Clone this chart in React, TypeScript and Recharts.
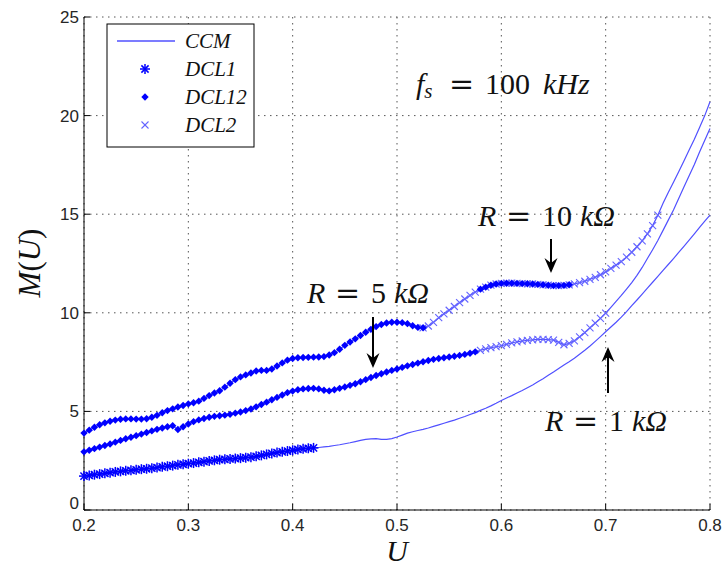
import React from "react";
import { LineChart, Line, XAxis, YAxis, CartesianGrid } from "recharts";

// U grid (x values)
const U = [
  0.2, 0.205, 0.21, 0.215, 0.22, 0.225, 0.23, 0.235, 0.24, 0.245,
  0.25, 0.255, 0.26, 0.265, 0.27, 0.275, 0.28, 0.285, 0.29, 0.295,
  0.3, 0.305, 0.31, 0.315, 0.32, 0.325, 0.33, 0.335, 0.34, 0.345,
  0.35, 0.355, 0.36, 0.365, 0.37, 0.375, 0.38, 0.385, 0.39, 0.395,
  0.4, 0.405, 0.41, 0.415, 0.42, 0.425, 0.43, 0.435, 0.44, 0.445,
  0.45, 0.455, 0.46, 0.465, 0.47, 0.475, 0.48, 0.485, 0.49, 0.495,
  0.5, 0.505, 0.51, 0.515, 0.52, 0.525, 0.53, 0.535, 0.54, 0.545,
  0.55, 0.555, 0.56, 0.565, 0.57, 0.575, 0.58, 0.585, 0.59, 0.595,
  0.6, 0.605, 0.61, 0.615, 0.62, 0.625, 0.63, 0.635, 0.64, 0.645,
  0.65, 0.655, 0.66, 0.665, 0.67, 0.675, 0.68, 0.685, 0.69, 0.695,
  0.7, 0.705, 0.71, 0.715, 0.72, 0.725, 0.73, 0.735, 0.74, 0.745,
  0.75, 0.755, 0.76, 0.765, 0.77, 0.775, 0.78, 0.785, 0.79, 0.795,
  0.8,
];

// M(U) for R = 1 kOhm
const M_R1 = [
  1.72, 1.75, 1.79, 1.82, 1.86, 1.89, 1.93, 1.96, 1.99, 2.01,
  2.04, 2.07, 2.09, 2.12, 2.15, 2.19, 2.22, 2.25, 2.29, 2.32,
  2.35, 2.38, 2.42, 2.45, 2.49, 2.52, 2.55, 2.57, 2.59, 2.61,
  2.63, 2.65, 2.68, 2.72, 2.77, 2.82, 2.87, 2.91, 2.95, 2.99,
  3.03, 3.07, 3.1, 3.13, 3.15, 3.17, 3.2, 3.23, 3.27, 3.31,
  3.36, 3.41, 3.47, 3.53, 3.58, 3.61, 3.62, 3.58, 3.58, 3.62,
  3.7, 3.8, 3.9, 3.97, 4.03, 4.09, 4.16, 4.24, 4.32, 4.4,
  4.48, 4.56, 4.65, 4.74, 4.84, 4.94, 5.05, 5.16, 5.28, 5.41,
  5.55, 5.68, 5.8, 5.93, 6.06, 6.2, 6.34, 6.5, 6.66, 6.83,
  7.0, 7.18, 7.35, 7.52, 7.7, 7.9, 8.1, 8.32, 8.55, 8.79,
  9.04, 9.28, 9.52, 9.78, 10.06, 10.36, 10.65, 10.95, 11.25, 11.55,
  11.85, 12.15, 12.45, 12.75, 13.06, 13.37, 13.68, 14.0, 14.33, 14.65,
  14.95,
];

// M(U) for R = 5 kOhm
const M_R5 = [
  2.95, 3.03, 3.11, 3.19, 3.27, 3.35, 3.44, 3.53, 3.61, 3.69,
  3.77, 3.85, 3.93, 4.01, 4.09, 4.16, 4.22, 4.27, 4.08, 4.22,
  4.36, 4.48, 4.57, 4.64, 4.7, 4.75, 4.78, 4.81, 4.85, 4.91,
  4.97, 5.04, 5.12, 5.23, 5.35, 5.47, 5.59, 5.71, 5.83, 5.95,
  6.03, 6.1, 6.14, 6.16, 6.17, 6.14, 6.07, 6.04, 6.1, 6.17,
  6.24, 6.32, 6.4, 6.5, 6.61, 6.72, 6.82, 6.91, 7.0, 7.08,
  7.15, 7.23, 7.31, 7.38, 7.45, 7.52, 7.58, 7.64, 7.68, 7.72,
  7.76, 7.8, 7.84, 7.89, 7.95, 8.02, 8.1, 8.17, 8.23, 8.28,
  8.33, 8.4, 8.47, 8.53, 8.57, 8.6, 8.63, 8.65, 8.65, 8.64,
  8.61, 8.5, 8.38, 8.45, 8.58, 8.78, 9.0, 9.24, 9.48, 9.72,
  9.98, 10.28, 10.58, 10.88, 11.2, 11.53, 11.9, 12.3, 12.75, 13.2,
  13.67, 14.18, 14.7, 15.21, 15.8, 16.38, 16.95, 17.52, 18.15, 18.75,
  19.35,
];

// M(U) for R = 10 kOhm
const M_R10 = [
  3.9, 4.05, 4.2, 4.32, 4.42, 4.5, 4.56, 4.6, 4.62, 4.62,
  4.61, 4.61, 4.63, 4.7, 4.8, 4.93, 5.04, 5.13, 5.22, 5.3,
  5.38, 5.44, 5.52, 5.66, 5.8, 5.93, 6.05, 6.23, 6.43, 6.61,
  6.75, 6.85, 6.95, 7.05, 7.08, 7.08, 7.15, 7.3, 7.46, 7.6,
  7.68, 7.72, 7.73, 7.74, 7.75, 7.76, 7.78, 7.86, 7.98, 8.15,
  8.35, 8.52, 8.68, 8.85, 9.01, 9.16, 9.3, 9.41, 9.48, 9.52,
  9.52, 9.5, 9.45, 9.34, 9.26, 9.24, 9.33, 9.52, 9.75, 9.95,
  10.13, 10.32, 10.52, 10.7, 10.88, 11.05, 11.2, 11.3, 11.4, 11.46,
  11.49, 11.5, 11.5, 11.49, 11.48, 11.47, 11.46, 11.44, 11.42, 11.4,
  11.38, 11.38, 11.39, 11.42, 11.47, 11.53, 11.6, 11.7, 11.8, 11.93,
  12.07, 12.25, 12.42, 12.6, 12.82, 13.07, 13.35, 13.65, 14.0, 14.42,
  14.95, 15.55, 16.1, 16.62, 17.15, 17.7, 18.25, 18.8, 19.4, 20.0,
  20.7,
];

const X_TICKS = [0.2, 0.3, 0.4, 0.5, 0.6, 0.7, 0.8];
const Y_TICKS = [0, 5, 10, 15, 20, 25];

// U ranges where each DCL marker set is shown
const DCL1_R1 = [[0.2, 0.42]];
const DCL12_R5 = [[0.2, 0.575]];
const DCL12_R10 = [[0.2, 0.525], [0.58, 0.665]];
const DCL2_R5 = [[0.58, 0.7]];
const DCL2_R10 = [[0.525, 0.75]];

const inside = (u: number, ranges: number[][]) =>
  ranges.some(([a, b]) => u >= a - 1e-9 && u <= b + 1e-9);

const data = U.map((u, i) => ({
  u,
  r1: M_R1[i],
  r5: M_R5[i],
  r10: M_R10[i],
  dcl1: inside(u, DCL1_R1) ? M_R1[i] : null,
  dcl12a: inside(u, DCL12_R5) ? M_R5[i] : null,
  dcl12b: inside(u, DCL12_R10) ? M_R10[i] : null,
  dcl2a: inside(u, DCL2_R5) ? M_R5[i] : null,
  dcl2b: inside(u, DCL2_R10) ? M_R10[i] : null,
}));

const BLUE = "#0000ff";
const LIGHT = "#6464ff";
const LINE = "#5050ff";
const SERIF = "'Liberation Serif', serif";
const SANS = "'Liberation Sans', Arial, sans-serif";

const Star = ({ cx, cy, s = 5 }: any) => {
  const d = s * 0.72;
  return (
    <g stroke={BLUE} strokeWidth={1.5}>
      <line x1={cx - s} y1={cy} x2={cx + s} y2={cy} />
      <line x1={cx} y1={cy - s} x2={cx} y2={cy + s} />
      <line x1={cx - d} y1={cy - d} x2={cx + d} y2={cy + d} />
      <line x1={cx - d} y1={cy + d} x2={cx + d} y2={cy - d} />
    </g>
  );
};

const Diamond = ({ cx, cy, s = 3.7 }: any) => (
  <path d={`M${cx},${cy - s}L${cx + s},${cy}L${cx},${cy + s}L${cx - s},${cy}Z`} fill={BLUE} />
);

const Cross = ({ cx, cy, s = 3.5 }: any) => (
  <g stroke={LIGHT} strokeWidth={1.1}>
    <line x1={cx - s} y1={cy - s} x2={cx + s} y2={cy + s} />
    <line x1={cx - s} y1={cy + s} x2={cx + s} y2={cy - s} />
  </g>
);

const dotOf = (Shape: any) => (p: any) =>
  p.value == null || p.cy == null || isNaN(p.cy) ? (
    <g key={p.index} />
  ) : (
    <Shape key={p.index} cx={p.cx} cy={p.cy} />
  );

const XTick = ({ x, y, payload }: any) => (
  <g>
    <line x1={x} y1={y} x2={x} y2={y - 6} stroke="#000" />
    <text x={x} y={y + 21} textAnchor="middle" fontFamily={SANS} fontSize={17} fill="#262626">
      {payload.value}
    </text>
  </g>
);

const YTick = ({ x, y, payload }: any) => (
  <g>
    <line x1={x} y1={y} x2={x + 6} y2={y} stroke="#000" />
    <text
      x={x - 5}
      y={payload.value === 0 ? y - 1 : y + 6}
      textAnchor="end"
      fontFamily={SANS}
      fontSize={17}
      fill="#262626"
    >
      {payload.value}
    </text>
  </g>
);

const TopTick = ({ x, y }: any) => <line x1={x} y1={y} x2={x} y2={y + 6} stroke="#000" />;
const RightTick = ({ x, y }: any) => <line x1={x} y1={y} x2={x - 6} y2={y} stroke="#000" />;

const Arrow = ({ x, from, to }: any) => {
  const dir = to > from ? 1 : -1;
  return (
    <g>
      <line x1={x} y1={from} x2={x} y2={to - dir * 8} stroke="#000" strokeWidth={2} />
      <path
        d={`M${x},${to}L${x - 6.5},${to - dir * 15}L${x},${to - dir * 10}L${x + 6.5},${to - dir * 15}Z`}
        fill="#000"
      />
    </g>
  );
};

const RLabel = ({ x, y, num }: any) => (
  <text y={y} fontFamily={SERIF} fontSize={30} fill="#111">
    <tspan x={x} fontStyle="italic">R</tspan>
    <tspan x={x + 28} fontFamily="'DejaVu Serif', serif">=</tspan>
    <tspan x={x + 64}>{num}</tspan>
    <tspan dx={8} fontStyle="italic">kΩ</tspan>
  </text>
);

const legendRows = [
  { name: "CCM", y: 41 },
  { name: "DCL1", y: 69 },
  { name: "DCL12", y: 97 },
  { name: "DCL2", y: 125 },
];

export default function App() {
  return (
    <div style={{ position: "absolute", left: 0, top: 0, width: 724, height: 567, background: "#fff" }}>
      <LineChart width={724} height={567} data={data} margin={{ top: 17, right: 14, bottom: 7, left: 24 }}>
        <CartesianGrid stroke="#555" strokeDasharray="1.5 4.5" />
        <XAxis
          dataKey="u"
          type="number"
          domain={[0.2, 0.8]}
          ticks={X_TICKS}
          height={50}
          tickSize={0}
          tickMargin={0}
          tickLine={false}
          axisLine={{ stroke: "#000" }}
          tick={<XTick />}
          interval={0}
        />
        <XAxis
          xAxisId="top"
          orientation="top"
          dataKey="u"
          type="number"
          domain={[0.2, 0.8]}
          ticks={X_TICKS}
          height={0}
          tickSize={0}
          tickMargin={0}
          tickLine={false}
          axisLine={{ stroke: "#000" }}
          tick={<TopTick />}
          interval={0}
        />
        <YAxis
          type="number"
          domain={[0, 25]}
          ticks={Y_TICKS}
          width={60}
          tickSize={0}
          tickMargin={0}
          tickLine={false}
          axisLine={{ stroke: "#000" }}
          tick={<YTick />}
          interval={0}
        />
        <YAxis
          yAxisId="right"
          orientation="right"
          type="number"
          domain={[0, 25]}
          ticks={Y_TICKS}
          width={0}
          tickSize={0}
          tickMargin={0}
          tickLine={false}
          axisLine={{ stroke: "#000" }}
          tick={<RightTick />}
          interval={0}
        />
        <Line dataKey="r1" stroke={LINE} strokeWidth={1.2} dot={false} activeDot={false} isAnimationActive={false} />
        <Line dataKey="r5" stroke={LINE} strokeWidth={1.2} dot={false} activeDot={false} isAnimationActive={false} />
        <Line dataKey="r10" stroke={LINE} strokeWidth={1.2} dot={false} activeDot={false} isAnimationActive={false} />
        <Line dataKey="dcl2a" stroke="none" dot={dotOf(Cross)} activeDot={false} isAnimationActive={false} />
        <Line dataKey="dcl2b" stroke="none" dot={dotOf(Cross)} activeDot={false} isAnimationActive={false} />
        <Line dataKey="dcl1" stroke="none" dot={dotOf(Star)} activeDot={false} isAnimationActive={false} />
        <Line dataKey="dcl12a" stroke="none" dot={dotOf(Diamond)} activeDot={false} isAnimationActive={false} />
        <Line dataKey="dcl12b" stroke="none" dot={dotOf(Diamond)} activeDot={false} isAnimationActive={false} />
      </LineChart>

      <svg width={724} height={567} style={{ position: "absolute", left: 0, top: 0, pointerEvents: "none" }}>
        {/* legend */}
        <rect x={107} y={24} width={147} height={123} fill="#fff" stroke="#000" strokeWidth={1} />
        <line x1={117} y1={41} x2={175} y2={41} stroke={LINE} strokeWidth={1.5} />
        <Star cx={145} cy={69} s={5} />
        <Diamond cx={145} cy={97} s={3.7} />
        <Cross cx={145} cy={125} s={3.5} />
        {legendRows.map((r) => (
          <text key={r.name} x={185} y={r.y + 7} fontFamily={SERIF} fontStyle="italic" fontSize={21} fill="#111">
            {r.name}
          </text>
        ))}

        {/* f_s label */}
        <text y={94} fontFamily={SERIF} fontSize={30} fill="#111">
          <tspan x={416} fontStyle="italic">f</tspan>
          <tspan fontStyle="italic" fontSize={21} dy={4}>s</tspan>
          <tspan x={449} dy={-4} fontFamily="'DejaVu Serif', serif">=</tspan>
          <tspan x={485}>100</tspan>
          <tspan x={543} fontStyle="italic">kHz</tspan>
        </text>

        <RLabel x={478} y={226} num="10" />
        <RLabel x={307} y={303} num="5" />
        <RLabel x={545} y={431} num="1" />

        <Arrow x={551} from={239} to={273} />
        <Arrow x={373} from={317} to={368} />
        <Arrow x={608} from={393} to={347} />

        {/* axis labels */}
        <text x={397} y={561} textAnchor="middle" fontFamily={SERIF} fontStyle="italic" fontSize={30} fill="#111">
          U
        </text>
        <text transform="translate(40,263) rotate(-90)" textAnchor="middle" fontFamily={SERIF} fontSize={31} fill="#111">
          <tspan fontStyle="italic">M</tspan>
          <tspan>(</tspan>
          <tspan fontStyle="italic">U</tspan>
          <tspan>)</tspan>
        </text>
      </svg>
    </div>
  );
}
